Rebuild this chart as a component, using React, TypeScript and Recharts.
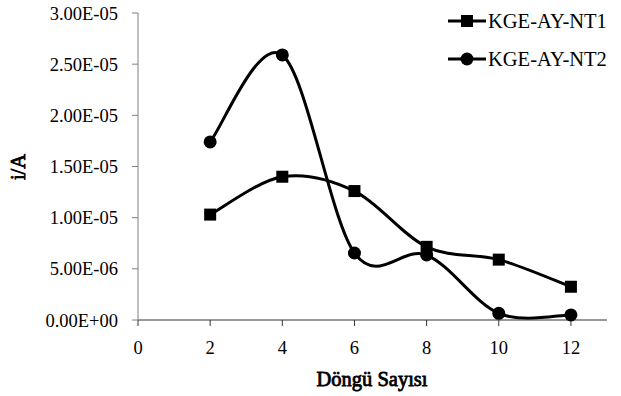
import React from 'react';
import { LineChart, Line, XAxis, YAxis } from 'recharts';

const cycles = [2, 4, 6, 8, 10, 12];
const nt1 = [1.03e-5, 1.4e-5, 1.26e-5, 0.715e-5, 0.59e-5, 0.325e-5];
const nt2 = [1.74e-5, 2.59e-5, 0.655e-5, 0.635e-5, 0.065e-5, 0.05e-5];
const xTicks = [0, 2, 4, 6, 8, 10, 12];
const yTicks = [0, 5e-6, 1e-5, 1.5e-5, 2e-5, 2.5e-5, 3e-5];
const seriesNames = ['KGE-AY-NT1', 'KGE-AY-NT2'];

const data = cycles.map((c, i) => ({ cycle: c, nt1: nt1[i], nt2: nt2[i] }));

const FONT = 'Liberation Serif';

// excel-like smoothed line (catmull-rom as bezier)
const excelSmooth = (context: any) => {
  let pts: number[][] = [];
  return {
    areaStart() {},
    areaEnd() {},
    lineStart() {
      pts = [];
    },
    lineEnd() {
      const n = pts.length;
      if (!n) return;
      context.moveTo(pts[0][0], pts[0][1]);
      for (let i = 0; i < n - 1; i++) {
        const p0 = pts[Math.max(i - 1, 0)];
        const p1 = pts[i];
        const p2 = pts[i + 1];
        const p3 = pts[Math.min(i + 2, n - 1)];
        context.bezierCurveTo(
          p1[0] + (p2[0] - p0[0]) / 6,
          p1[1] + (p2[1] - p0[1]) / 6,
          p2[0] - (p3[0] - p1[0]) / 6,
          p2[1] - (p3[1] - p1[1]) / 6,
          p2[0],
          p2[1]
        );
      }
    },
    point(x: number, y: number) {
      pts.push([+x, +y]);
    },
  };
};

const fmtSci = (v: number) => {
  const [m, e] = v.toExponential(2).split('e');
  const exp = parseInt(e, 10);
  const sign = exp < 0 ? '-' : '+';
  return `${m}E${sign}${String(Math.abs(exp)).padStart(2, '0')}`;
};

const SquareDot = (props: any) => {
  const { cx, cy } = props;
  return <rect key={`s-${cx}`} x={cx - 6} y={cy - 6} width={12} height={12} fill="#000" />;
};

const CircleDot = (props: any) => {
  const { cx, cy } = props;
  return <circle key={`c-${cx}`} cx={cx} cy={cy} r={6.5} fill="#000" />;
};

const LegendBox = () => (
  <div style={{ position: 'absolute', left: 448, top: 2, fontFamily: FONT, fontSize: 20.5, color: '#000' }}>
    {seriesNames.map((name, i) => (
      <div key={name} style={{ display: 'flex', alignItems: 'center', height: 38, whiteSpace: 'nowrap' }}>
        <svg width={38} height={16} style={{ marginRight: 2 }}>
          <line x1={0} y1={8} x2={38} y2={8} stroke="#000" strokeWidth={3} />
          {i === 0 ? <rect x={13} y={2} width={12} height={12} fill="#000" /> : <circle cx={19} cy={8} r={6.5} fill="#000" />}
        </svg>
        <span>{name}</span>
      </div>
    ))}
  </div>
);

// titles: stroked regular face instead of a bold face
const titleStyle: React.CSSProperties = {
  position: 'absolute',
  fontFamily: FONT,
  fontSize: 20.5,
  fontWeight: 'normal',
  WebkitTextStroke: '0.8px #000',
  lineHeight: 1,
  whiteSpace: 'nowrap',
  color: '#000',
};

const App: React.FC = () => {
  return (
    <div style={{ position: 'absolute', left: 0, top: 0, width: 621, height: 396, background: '#fff', fontFamily: FONT }}>
      <LineChart width={621} height={396} data={data} margin={{ top: 13, right: 14, left: 0, bottom: 0 }}>
        <XAxis
          dataKey="cycle"
          type="number"
          domain={[0, 13]}
          ticks={xTicks}
          height={76}
          tickSize={6}
          tickMargin={15}
          stroke="#333"
          tick={{ fill: '#000', fontFamily: FONT, fontSize: 18.5 }}
        />
        <YAxis
          type="number"
          domain={[0, 3e-5]}
          ticks={yTicks}
          width={138}
          tickSize={6}
          tickMargin={14}
          stroke="#808080"
          tickFormatter={fmtSci}
          tick={{ fill: '#000', fontFamily: FONT, fontSize: 18.5 }}
        />
        <Line
          dataKey="nt1"
          name={seriesNames[0]}
          type={excelSmooth as any}
          stroke="#000"
          strokeWidth={3}
          dot={SquareDot}
          activeDot={false}
          isAnimationActive={false}
        />
        <Line
          dataKey="nt2"
          name={seriesNames[1]}
          type={excelSmooth as any}
          stroke="#000"
          strokeWidth={3}
          dot={CircleDot}
          activeDot={false}
          isAnimationActive={false}
        />
      </LineChart>
      <LegendBox />
      <div style={{ ...titleStyle, left: 372, top: 369, transform: 'translateX(-50%)' }}>Döngü Sayısı</div>
      <div style={{ ...titleStyle, left: 18, top: 167, transform: 'translate(-50%, -50%) rotate(-90deg)' }}>i/A</div>
    </div>
  );
};

export default App;
